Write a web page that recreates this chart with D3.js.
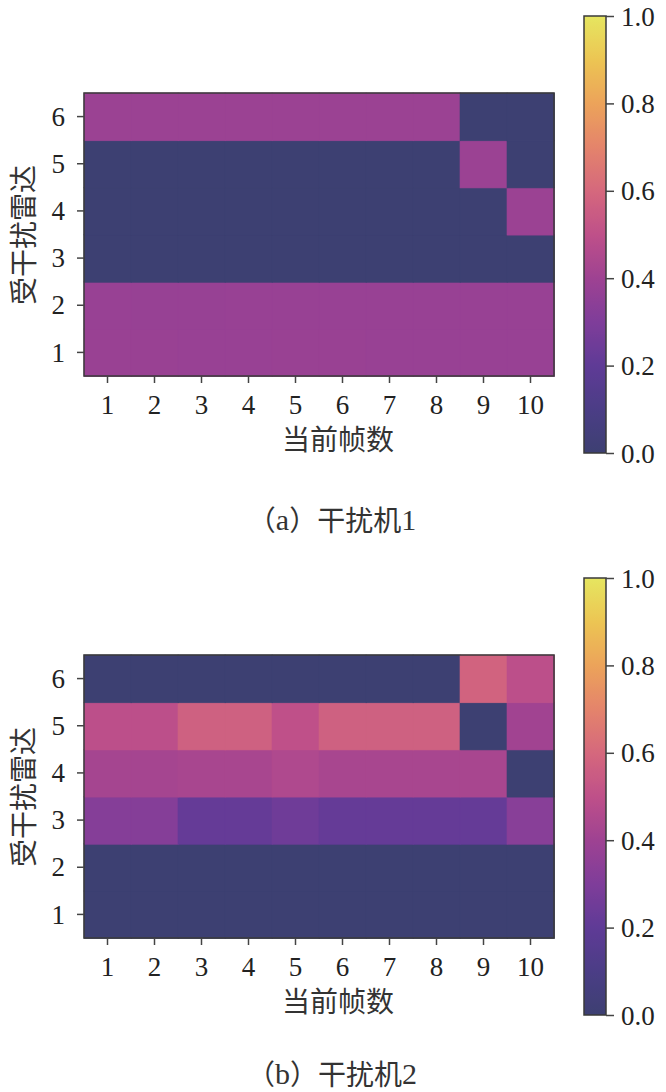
<!DOCTYPE html>
<meta charset="utf-8">
<style>
	body {
		margin: 0;
		background: #fff;
	}
	.num {
		font-family: "Liberation Serif", "DejaVu Serif", serif;
		font-size: 27px;
		fill: #222;
	}
	.cjk {
		font-family: "Noto Sans CJK SC", sans-serif;
		font-size: 28px;
		fill: #333;
	}
	.frame {
		fill: none;
		stroke: #3a3a3a;
		stroke-width: 1.5px;
	}
	.tick line {
		stroke: #444;
		stroke-width: 1.5px;
	}
</style>
<body>
<svg id="chart" width="666" height="1092"></svg>
</body>
<script src="https://cdn.jsdelivr.net/npm/d3@7/dist/d3.min.js"></script>
<script>
	var frames = [1, 2, 3, 4, 5, 6, 7, 8, 9, 10]; // 当前帧数
	var radars = [6, 5, 4, 3, 2, 1]; // 受干扰雷达, top to bottom

	// rows = radar 1..6, columns = frame 1..10
	var jammer1 = [
		[0.385, 0.385, 0.38, 0.38, 0.385, 0.385, 0.38, 0.38, 0.38, 0.38],
		[0.38, 0.378, 0.378, 0.38, 0.38, 0.38, 0.38, 0.38, 0.38, 0.38],
		[0, 0, 0, 0, 0, 0, 0, 0, 0, 0],
		[0, 0, 0, 0, 0, 0, 0, 0, 0, 0.39],
		[0, 0, 0, 0, 0, 0, 0, 0, 0.39, 0],
		[0.39, 0.39, 0.39, 0.39, 0.39, 0.39, 0.39, 0.39, 0, 0]
	];
	var jammer2 = [
		[0, 0, 0, 0, 0, 0, 0, 0, 0, 0],
		[0, 0, 0, 0, 0, 0, 0, 0, 0, 0],
		[0.32, 0.32, 0.22, 0.22, 0.25, 0.22, 0.22, 0.22, 0.22, 0.33],
		[0.42, 0.42, 0.43, 0.43, 0.45, 0.43, 0.43, 0.43, 0.43, 0],
		[0.49, 0.49, 0.57, 0.57, 0.50, 0.57, 0.57, 0.57, 0, 0.41],
		[0, 0, 0, 0, 0, 0, 0, 0, 0.58, 0.49]
	];
	var captions = [["（", "a", "）干扰机", "1"], ["（", "b", "）干扰机", "2"]];
	var colorTicks = [0, 0.2, 0.4, 0.6, 0.8, 1.0];

	// colour stops (a muted plasma)
	var stopPos = [0, 0.1, 0.2, 0.3, 0.4, 0.5, 0.6, 0.7, 0.8, 0.9, 1.0];
	var stopCol = ["#3d4072", "#4b3d86", "#5f3b96", "#7f3d9a", "#9e4292", "#bf5089",
		"#d5687d", "#e4846b", "#eca35a", "#ecc553", "#e6e660"];

	var color = d3.scaleLinear().domain(stopPos).range(stopCol).interpolate(d3.interpolateRgb);

	var svg = d3.select("#chart");

	// gradient for the colour bar
	var grad = svg.append("defs").append("linearGradient")
		.attr("id", "cbar")
		.attr("x1", 0).attr("y1", 1).attr("x2", 0).attr("y2", 0);
	grad.selectAll("stop")
		.data(d3.range(0, 1.0001, 0.02))
		.join("stop")
		.attr("offset", function(d) { return d; })
		.attr("stop-color", function(d) { return color(d); });

	function drawPanel(data, dy, caption) {
		var g = svg.append("g").attr("transform", "translate(0," + dy + ")");

		var x = d3.scaleBand().domain(frames).range([84, 554]);
		var y = d3.scaleBand().domain(radars).range([93, 376]);

		var cells = [];
		data.forEach(function(row, i) {
			row.forEach(function(v, j) {
				cells.push({ radar: i + 1, frame: frames[j], v: v });
			});
		});

		g.selectAll("rect.cell")
			.data(cells)
			.join("rect")
			.attr("class", "cell")
			.attr("x", function(d) { return x(d.frame); })
			.attr("y", function(d) { return y(d.radar); })
			.attr("width", x.bandwidth() + 0.6)
			.attr("height", y.bandwidth() + 0.6)
			.attr("fill", function(d) { return color(d.v); })
			.attr("stroke", function(d) { return color(d.v); })
			.attr("stroke-width", 0.6);

		g.append("rect")
			.attr("class", "frame")
			.attr("x", 84).attr("y", 93)
			.attr("width", 470).attr("height", 283);

		// x axis
		var xa = g.append("g")
			.attr("transform", "translate(0,376)")
			.call(d3.axisBottom(x).tickSize(7).tickPadding(6).tickSizeOuter(0));
		xa.select(".domain").remove();
		xa.selectAll("text").attr("class", "num").attr("dy", "0.72em").attr("y", 19);

		// y axis
		var ya = g.append("g")
			.attr("transform", "translate(84,0)")
			.call(d3.axisLeft(y).tickSize(7).tickPadding(12).tickSizeOuter(0));
		ya.select(".domain").remove();
		ya.selectAll("text").attr("class", "num").attr("dy", "0.34em");

		g.append("text")
			.attr("class", "cjk")
			.attr("x", 338).attr("y", 438)
			.attr("text-anchor", "middle")
			.attr("dominant-baseline", "central")
			.text("当前帧数");

		g.append("text")
			.attr("class", "cjk")
			.attr("transform", "translate(22,235) rotate(-90)")
			.attr("text-anchor", "middle")
			.attr("dominant-baseline", "central")
			.text("受干扰雷达");

		// colour bar
		var cy = d3.scaleLinear().domain([0, 1]).range([453, 16]);
		g.append("rect")
			.attr("x", 584).attr("y", 16)
			.attr("width", 22).attr("height", 437)
			.attr("fill", "url(#cbar)");
		g.append("rect")
			.attr("class", "frame")
			.attr("x", 584).attr("y", 16)
			.attr("width", 22).attr("height", 437);
		var ca = g.append("g")
			.attr("transform", "translate(606,0)")
			.call(d3.axisRight(cy).tickValues(colorTicks).tickFormat(d3.format(".1f"))
				.tickSize(8).tickPadding(7).tickSizeOuter(0));
		ca.select(".domain").remove();
		ca.selectAll("text").attr("class", "num").attr("dy", "0.34em");

		// caption, latin parts in serif
		var cap = g.append("text")
			.attr("class", "cjk")
			.attr("x", 332).attr("y", dy === 0 ? 519 : 511)
			.attr("text-anchor", "middle")
			.attr("dominant-baseline", "central")
			.style("font-size", "28px");
		cap.selectAll("tspan")
			.data(caption)
			.join("tspan")
			.style("font-family", function(d, i) {
				return i % 2 ? "'Liberation Serif', serif" : null;
			})
			.style("font-size", function(d, i) { return i % 2 ? "30px" : null; })
			.text(function(d) { return d; });
	}

	drawPanel(jammer1, 0, captions[0]);
	drawPanel(jammer2, 562, captions[1]);
</script>
